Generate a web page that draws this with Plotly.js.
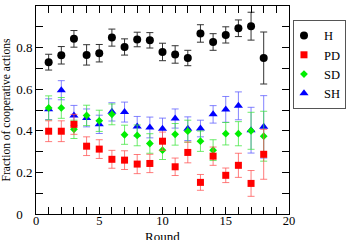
<!DOCTYPE html>
<html>
<head>
<meta charset="utf-8">
<script src="https://cdn.plot.ly/plotly-3.0.1.min.js"></script>
<style>html,body{margin:0;padding:0;background:#fff;}#chart{width:349px;height:240px;}</style>
</head>
<body>
<div id="chart"></div>
<script>
const rounds = [1,2,3,4,5,6,7,8,9,10,11,12,13,14,15,16,17,18];
const H     = [0.730,0.763,0.842,0.765,0.773,0.848,0.803,0.839,0.835,0.779,0.767,0.750,0.868,0.827,0.861,0.893,0.903,0.750];
const H_err = [0.038,0.042,0.040,0.049,0.042,0.041,0.039,0.035,0.037,0.042,0.042,0.037,0.042,0.040,0.039,0.040,0.067,0.125];
const PD     = [0.398,0.398,0.431,0.326,0.312,0.263,0.259,0.240,0.243,0.350,0.227,0.296,0.152,0.278,0.186,0.234,0.147,0.287];
const PD_err = [0.050,0.050,0.048,0.045,0.045,0.043,0.045,0.046,0.044,0.044,0.042,0.050,0.038,0.044,0.035,0.058,0.062,0.120];
const SD     = [0.510,0.510,0.407,0.474,0.448,0.479,0.381,0.378,0.339,0.307,0.383,0.398,0.350,0.307,0.386,0.386,0.400,0.374];
const SD_err = [0.058,0.050,0.044,0.049,0.051,0.050,0.046,0.050,0.047,0.045,0.052,0.053,0.049,0.050,0.054,0.058,0.089,0.120];
const SH     = [0.504,0.595,0.474,0.462,0.431,0.491,0.490,0.421,0.416,0.410,0.459,0.410,0.411,0.479,0.503,0.520,0.403,0.419];
const SH_err = [0.050,0.046,0.048,0.043,0.044,0.044,0.048,0.048,0.050,0.051,0.046,0.057,0.040,0.042,0.062,0.067,0.110,0.150];

const xTickVals = [0,1,2,3,4,5,6,7,8,9,10,11,12,13,14,15,16,17,18,19,20];
const xTickText = ['0','','','','','5','','','','','10','','','','','15','','','','','20'];
const yTickVals = [0,0.1,0.2,0.3,0.4,0.5,0.6,0.7,0.8,0.9,1.0];
const yTickText = ['0\u2008\u2007','','0.2','','0.4','','0.6','','0.8','','1.0'];
const xTitle = 'Round';
const yTitle = 'Fraction of cooperative actions';

const serif = 'Liberation Serif, Times New Roman, serif';

function tr(name, y, err, symbol, color, errColor, size) {
  return {
    x: rounds, y: y, name: name, type: 'scatter', mode: 'markers',
    marker: {symbol: symbol, color: color, size: size},
    error_y: {type: 'data', array: err, visible: true, color: errColor, thickness: 1, width: 3.5}
  };
}

const data = [
  tr('SH', SH, SH_err, 'triangle-up', '#0000ff', 'rgba(90,90,255,0.75)', 8),
  tr('SD', SD, SD_err, 'diamond', '#00ee00', 'rgba(60,230,60,0.75)', 6),
  tr('PD', PD, PD_err, 'square', '#ff0000', 'rgba(255,80,80,0.75)', 7),
  tr('H', H, H_err, 'circle', '#000000', '#333333', 8)
];

const layout = {
  width: 349, height: 240,
  margin: {l: 36, r: 60, t: 6, b: 26, autoexpand: false},
  paper_bgcolor: '#fff', plot_bgcolor: '#fff',
  font: {family: serif, size: 13, color: '#000'},
  showlegend: true,
  legend: {
    xref: 'container', yref: 'container',
    x: 0.8395, y: 0.917, xanchor: 'left', yanchor: 'top',
    bordercolor: '#555', borderwidth: 1, bgcolor: '#fff',
    traceorder: 'reversed', indentation: -10,
    font: {family: serif, size: 12.5, color: '#000'}
  },
  xaxis: {
    range: [0, 20], tickmode: 'array', tickvals: xTickVals, ticktext: xTickText,
    ticks: 'inside', ticklen: 7, tickcolor: '#000', tickwidth: 1,
    showline: true, linecolor: '#000', linewidth: 1, mirror: 'ticks',
    showgrid: false, zeroline: false, automargin: false,
    tickfont: {family: serif, size: 12.5},
    ticklabelstandoff: -5
  },
  yaxis: {
    range: [0, 1], tickmode: 'array', tickvals: yTickVals, ticktext: yTickText,
    ticks: 'inside', ticklen: 7, tickcolor: '#000', tickwidth: 1,
    showline: true, linecolor: '#000', linewidth: 1, mirror: 'ticks',
    showgrid: false, zeroline: false, automargin: false,
    tickfont: {family: serif, size: 13},
    title: {text: yTitle, font: {family: serif, size: 11.5}}
  },
  annotations: [{
    text: xTitle, xref: 'paper', yref: 'paper', x: 0.5, y: -0.066,
    xanchor: 'center', yanchor: 'top', showarrow: false, borderpad: 0,
    font: {family: serif, size: 13, color: '#000'}
  }]
};

Plotly.newPlot('chart', data, layout, {displayModeBar: false, staticPlot: true});
</script>
</body>
</html>
